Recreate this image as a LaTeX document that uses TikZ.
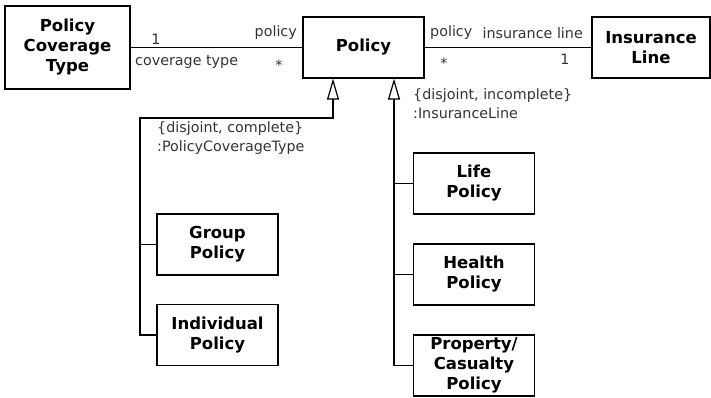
\documentclass[tikz,border=0pt]{standalone}
\usepackage{fontspec}
\setmainfont{DejaVu Sans}
\usepackage{xcolor}
\usepackage{tikz}
\usetikzlibrary{positioning, arrows.meta, calc}

\begin{document}
\begin{tikzpicture}[
    x=1pt, y=-1pt,
    classbox/.style={rectangle, draw, line width=1.2pt, minimum height=61pt, minimum width=121pt, inner sep=0pt, align=center, font=\fontsize{16.5}{20}\selectfont\bfseries},
    rolelabel/.style={inner sep=0pt, text=black!80, font=\fontsize{14.3}{19.5}\selectfont},
    assoc/.style={line width=1.2pt},
    gen/.style={line width=1.2pt, -{Triangle[open, length=21pt, width=12pt]}}
]
\useasboundingbox (0,0) rectangle (711,397);

\node[classbox, minimum width=125pt, minimum height=83pt] (pct) at (67.5, 47.5) {Policy\\Coverage\\Type};
\node[classbox] (policy) at (363.5, 47.5) {Policy};
\node[classbox, minimum width=118pt] (insline) at (651, 47.5) {Insurance\\Line};

\node[classbox] (group) at (217.5, 244.5) {Group\\Policy};
\node[classbox] (indiv) at (217.5, 335) {Individual\\Policy};

\node[classbox] (life) at (474, 183.5) {Life\\Policy};
\node[classbox] (health) at (474, 274.5) {Health\\Policy};
\node[classbox] (propcas) at (474, 365.5) {Property/\\Casualty\\Policy};

% associations
\draw[assoc] (pct) -- (policy);
\draw[assoc] (policy) -- (insline);

\node[rolelabel] (pctmult) at (156, 39) {1};
\node[rolelabel, anchor=west] (pctrole) at (135, 62) {coverage type};
\node[rolelabel, anchor=east] (polrole1) at (297, 33) {policy};
\node[rolelabel] (polmult1) at (279, 65) {*};

\node[rolelabel, anchor=west] (polrole2) at (430, 33) {policy};
\node[rolelabel, anchor=east] (insrole) at (583, 33) {insurance line};
\node[rolelabel] (polmult2) at (444, 63) {*};
\node[rolelabel] (insmult) at (565, 59) {1};

% generalization sets
\coordinate (ljoin) at (140, 118);
\coordinate (rjoin) at (394, 118);

\draw[gen] (indiv.west) -| (ljoin) -| ([xshift=-30.5pt]policy.south);
\draw[assoc] (group.west) -- (group.west -| ljoin);

\draw[gen] (propcas.west) -| ([xshift=30.5pt]policy.south);
\draw[assoc] (life.west) -- (life.west -| rjoin);
\draw[assoc] (health.west) -- (health.west -| rjoin);

\node[rolelabel, anchor=north west, align=left] (lset) at (157, 121) {\{disjoint, complete\}\\:PolicyCoverageType};
\node[rolelabel, anchor=north west, align=left] (rset) at (413, 88) {\{disjoint, incomplete\}\\:InsuranceLine};

\end{tikzpicture}
\end{document}
